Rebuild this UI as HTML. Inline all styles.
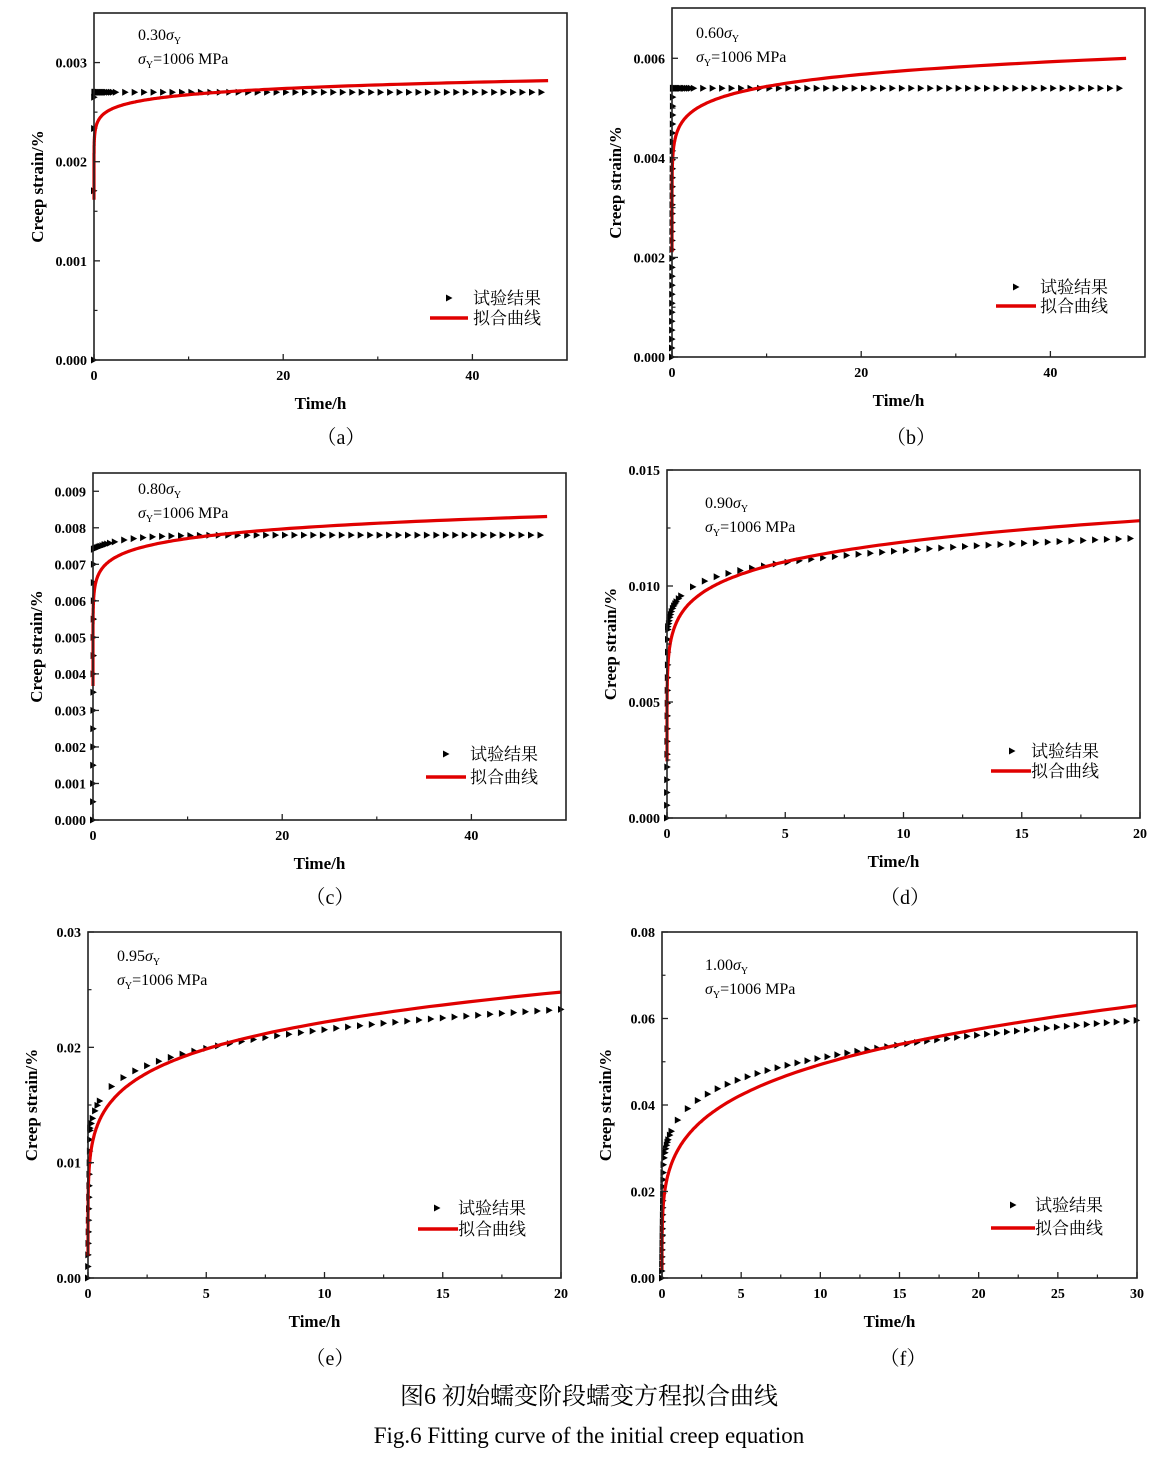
<!DOCTYPE html>
<html><head><meta charset="utf-8"><style>
body{margin:0;background:#fff;}
svg text{font-family:"Liberation Serif","Noto Serif CJK SC",serif;}
</style></head><body>
<svg id="s" width="1153" height="1456" xmlns="http://www.w3.org/2000/svg"></svg>
<script>
const S=document.getElementById('s');let h='';
const P=[
{x0:94,x1:567,y0:13,y1:360,xmax:50,te:48,ymax:0.0035,xt:[0,20,40],xm:[10,30],yt:[0,0.001,0.002,0.003],ym:[0.0005,0.0015,0.0025],dec:3,
 tri:t=>0.0027*(1-Math.exp(-t*200)),tt:mk(48,1,0.3,[0,0.005,0.01,0.02,0.04,0.06,0.08,0.1,0.12,0.15,0.18,0.2,0.25,0.3,0.35,0.4,0.45,0.5,0.6,0.7,0.8,0.9,1,1.1,1.2,1.4,1.6,1.8,2]),
 fit:t=>0.00248*Math.pow(t,0.033),tmin:0.002,lab:'0.30',ax:138,ay:40,leg:[449,298,473,430,468,318],cap:'（a）',cx:341,cy:437},
{x0:672,x1:1145,y0:8,y1:357,xmax:50,te:48,ymax:0.00701,xt:[0,20,40],xm:[10,30],yt:[0,0.002,0.004,0.006],ym:[0.001,0.003,0.005],dec:3,
 tri:t=>0.0054*Math.min(1,t/0.1),tt:mk(48,1,0.3,lin(0,0.1,30).concat([0.12,0.15,0.2,0.25,0.3,0.4,0.5,0.6,0.7,0.8,0.9,1,1.2,1.4,1.6,1.8,2])),
 fit:t=>0.0047*Math.pow(t,0.063),tmin:0.0001,lab:'0.60',ax:696,ay:38,leg:[1016,287,1040,996,1036,306],cap:'（b）',cx:911,cy:437},
{x0:93,x1:566,y0:473,y1:820,xmax:50,te:48,ymax:0.0095,xt:[0,20,40],xm:[10,30],yt:[0,0.001,0.002,0.003,0.004,0.005,0.006,0.007,0.008,0.009],ym:[],dec:3,
 tri:t=>t<0.1?0.0075*t/0.1:0.0074+0.0004*(1-Math.exp(-t/3)),tt:mk(48,1,0.3,lin(0,0.1,15).concat([0.15,0.2,0.3,0.4,0.5,0.6,0.7,0.8,1,1.2,1.5,1.8])),
 fit:t=>0.0069*Math.pow(t,0.048),tmin:0.0002,lab:'0.80',ax:138,ay:494,leg:[446,754,470,426,466,777],cap:'（c）',cx:330,cy:897},
{x0:667,x1:1140,y0:470,y1:818,xmax:20,te:20,ymax:0.015,xt:[0,5,10,15,20],xm:[2.5,7.5,12.5,17.5],yt:[0,0.005,0.010,0.015],ym:[0.0025,0.0075,0.0125],dec:3,
 tri:t=>t<0.05?0.0088*t/0.05:0.0099*Math.pow(t,0.066),tt:mk(20,0.5,0.6,lin(0,0.05,16).concat([0.08,0.1,0.13,0.16,0.2,0.25,0.3,0.35,0.4,0.5])),
 fit:t=>0.0093*Math.pow(t,0.107),tmin:0.00003,lab:'0.90',ax:705,ay:508,leg:[1012,751,1031,991,1031,771],cap:'（d）',cx:905,cy:897},
{x0:88,x1:561,y0:932,y1:1278,xmax:20,te:20,ymax:0.03,xt:[0,5,10,15,20],xm:[2.5,7.5,12.5,17.5],yt:[0,0.01,0.02,0.03],ym:[0.005,0.015,0.025],dec:2,
 tri:t=>t<0.1?0.014*t/0.1:0.0166*Math.pow(t,0.113),tt:mk(20,0.5,0.5,lin(0,0.1,14).concat([0.15,0.2,0.3,0.4])),
 fit:t=>0.01535*Math.pow(t,0.16),tmin:0.00001,lab:'0.95',ax:117,ay:961,leg:[437,1208,458,418,458,1229],cap:'（e）',cx:330,cy:1358},
{x0:662,x1:1137,y0:932,y1:1278,xmax:30,te:30,ymax:0.08,xt:[0,5,10,15,20,25,30],xm:[2.5,7.5,12.5,17.5,22.5,27.5],yt:[0,0.02,0.04,0.06,0.08],ym:[0.01,0.03,0.05,0.07],dec:2,
 tri:t=>t<0.1?0.026*t/0.1:0.0365*Math.pow(t,0.144),tt:mk(30,0.63,1.0,lin(0,0.1,16).concat([0.15,0.2,0.25,0.3,0.35,0.4,0.5,0.6])),
 fit:t=>0.0296*Math.pow(t,0.222),tmin:0.00001,lab:'1.00',ax:705,ay:970,leg:[1013,1205,1035,991,1035,1228],cap:'（f）',cx:903,cy:1358}
];
function lin(a,b,n){let r=[];for(let i=0;i<=n;i++)r.push(a+(b-a)*i/n);return r;}
function mk(end,step,start,early){let r=early.slice();for(let t=start;t<=end+1e-9;t+=step)r.push(t);return r;}
function tri(x,y){return `<path d="M${(x-3).toFixed(1)},${(y-3.5).toFixed(1)}L${(x+3.5).toFixed(1)},${y.toFixed(1)}L${(x-3).toFixed(1)},${(y+3.5).toFixed(1)}Z" fill="#000"/>`;}
for(const p of P){
 const X=t=>p.x0+(p.x1-p.x0)*t/p.xmax, Y=v=>p.y1-(p.y1-p.y0)*v/p.ymax;
 for(const t of p.tt){h+=tri(X(t),Y(p.tri(t)));}
 let d='';let ts=[0];for(let i=0;i<=400;i++)ts.push(p.tmin*Math.pow(p.te/p.tmin,i/400));
 ts.forEach((t,i)=>{const v=t==0?p.fit(p.tmin)*0.8:p.fit(t);d+=(i?'L':'M')+X(t).toFixed(1)+','+Y(v).toFixed(1);});
 h+=`<path d="${d}" fill="none" stroke="#e00000" stroke-width="3.2"/>`;
 h+=`<rect x="${p.x0}" y="${p.y0}" width="${p.x1-p.x0}" height="${p.y1-p.y0}" fill="none" stroke="#222" stroke-width="1.6"/>`;
 for(const t of p.xt){const x=X(t);h+=`<line x1="${x}" y1="${p.y1}" x2="${x}" y2="${p.y1-6}" stroke="#222" stroke-width="1.3"/><text x="${x}" y="${p.y1+20}" font-size="14" font-weight="bold" text-anchor="middle">${t}</text>`;}
 for(const t of p.xm){const x=X(t);h+=`<line x1="${x}" y1="${p.y1}" x2="${x}" y2="${p.y1-3.5}" stroke="#222" stroke-width="1.2"/>`;}
 for(const v of p.yt){const y=Y(v);h+=`<line x1="${p.x0}" y1="${y}" x2="${p.x0+6}" y2="${y}" stroke="#222" stroke-width="1.3"/><text x="${p.x0-7}" y="${y+5}" font-size="14" font-weight="bold" text-anchor="end">${v.toFixed(p.dec)}</text>`;}
 for(const v of p.ym){const y=Y(v);h+=`<line x1="${p.x0}" y1="${y}" x2="${p.x0+3.5}" y2="${y}" stroke="#222" stroke-width="1.2"/>`;}
 const my=(p.y0+p.y1)/2, mx=(p.x0+p.x1)/2, lx=p.x0-57;
 h+=`<text transform="translate(${lx+6},${my}) rotate(-90)" font-size="17" font-weight="bold" text-anchor="middle">Creep strain/%</text>`;
 h+=`<text x="${mx-10}" y="${p.y1+49}" font-size="17" font-weight="bold" text-anchor="middle">Time/h</text>`;
 h+=`<text x="${p.ax}" y="${p.ay}" font-size="16">${p.lab}<tspan font-style="italic">σ</tspan><tspan font-size="10" dy="4">Y</tspan></text>`;
 h+=`<text x="${p.ax}" y="${p.ay+24}" font-size="16"><tspan font-style="italic">σ</tspan><tspan font-size="10" dy="4">Y</tspan><tspan dy="-4">=1006 MPa</tspan></text>`;
 const L=p.leg;h+=tri(L[0],L[1]);
 h+=`<text x="${L[2]}" y="${L[1]+6}" font-size="17">试验结果</text>`;
 h+=`<line x1="${L[3]}" y1="${L[5]}" x2="${L[4]}" y2="${L[5]}" stroke="#e00000" stroke-width="3.5"/>`;
 h+=`<text x="${L[2]}" y="${L[5]+6}" font-size="17">拟合曲线</text>`;
 h+=`<text x="${p.cx}" y="${p.cy+7}" font-size="20" text-anchor="middle">${p.cap}</text>`;
}
h+=`<text x="589" y="1404" font-size="24" text-anchor="middle">图6  初始蠕变阶段蠕变方程拟合曲线</text>`;
h+=`<text x="589" y="1443" font-size="23" text-anchor="middle">Fig.6  Fitting curve of the initial creep equation</text>`;
S.innerHTML=h;
</script>
</body></html>
